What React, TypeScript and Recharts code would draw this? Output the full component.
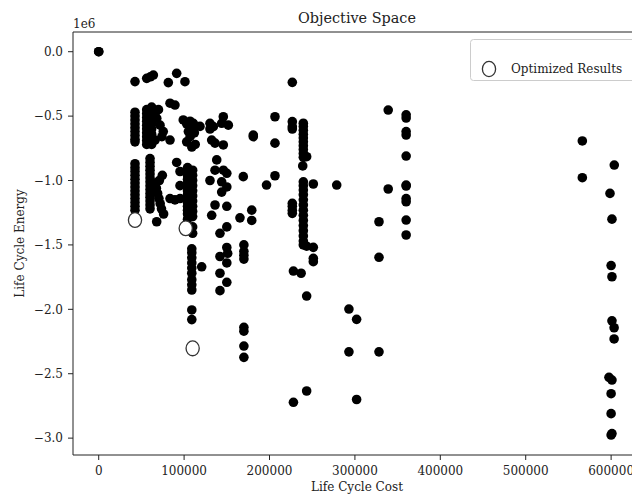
import React from 'react';
import { ScatterChart, Scatter, XAxis, YAxis, ReferenceLine } from 'recharts';

const FONT = '"DejaVu Serif", serif';
const INK = '#222';

const X_TICKS = [0, 100000, 200000, 300000, 400000, 500000, 600000];
const Y_TICKS = [-3e6, -2.5e6, -2e6, -1.5e6, -1e6, -0.5e6, 0];
const X_DOMAIN = [-30100, 635000];
const Y_DOMAIN = [-3.131e6, 0.153e6];

// [life cycle cost, life cycle energy (x1e6)]
const ORIGIN = [[0, 0], [0, 0]];

const COL_42K = [
  [42500, -0.232], [42500, -0.47], [42500, -0.5], [42500, -0.53], [42500, -0.56], [42500, -0.59],
  [42500, -0.62], [42500, -0.65], [42500, -0.68], [42500, -0.7], [42500, -0.87], [42500, -0.9],
  [42500, -0.93], [42500, -0.96], [42500, -0.99], [42500, -1.02], [42500, -1.05], [42500, -1.08],
  [42500, -1.11], [42500, -1.14], [42500, -1.17], [42500, -1.2], [42500, -1.23],
];

const COL_60K = [
  [56200, -0.207], [60500, -0.195], [64000, -0.181],
  [56200, -0.45], [56200, -0.48], [56200, -0.51], [56200, -0.54], [56200, -0.57], [56200, -0.6],
  [56200, -0.63], [56200, -0.66], [56200, -0.69], [56200, -0.72],
  [62000, -0.43], [62000, -0.46], [62000, -0.5], [62000, -0.53], [62000, -0.56], [62000, -0.6],
  [62000, -0.64], [62000, -0.68], [62000, -0.72],
  [60100, -0.83], [60100, -0.86], [60100, -0.89], [60100, -0.92], [60100, -0.95], [60100, -0.98],
  [60100, -1.01], [60100, -1.04], [60100, -1.07], [60100, -1.1], [60100, -1.13], [60100, -1.16],
  [60100, -1.19], [60100, -1.22],
  [68000, -0.517], [71800, -0.57], [75600, -0.62], [66000, -0.686], [74000, -0.66], [70000, -0.45],
  [66000, -0.48], [66000, -1.02], [67500, -1.06], [69000, -1.1], [70500, -1.14], [72000, -1.18],
  [73500, -1.22], [76000, -1.26], [67900, -1.32], [71000, -1.0], [74500, -0.96],
];

const COL_85K = [
  [81500, -0.24], [91300, -0.168], [101000, -0.233], [83500, -0.4], [89300, -0.414], [83500, -0.686],
  [91300, -0.86], [83500, -1.14], [89300, -1.15], [95200, -1.14], [95200, -0.93], [95200, -1.04],
];

const COL_105K = [
  [99000, -0.53], [103000, -0.56], [107000, -0.54], [110800, -0.58], [105000, -0.62], [107000, -0.66],
  [103000, -0.7], [109000, -0.74], [110800, -0.556], [112000, -0.63], [113000, -0.72], [118600, -0.58],
  [104000, -0.9], [104000, -0.93], [104000, -0.96], [104000, -0.99], [104000, -1.02], [104000, -1.05],
  [104000, -1.08], [104000, -1.11], [104000, -1.14], [104000, -1.17], [104000, -1.2], [104000, -1.23],
  [104000, -1.26], [104000, -1.3],
  [110000, -0.92], [110000, -0.96], [110000, -1.0], [110000, -1.04], [110000, -1.08], [110000, -1.12],
  [110000, -1.16], [110000, -1.2], [110000, -1.24], [110000, -1.28], [110000, -1.36], [110000, -1.41],
];

const COL_110K_LOW = [
  [109000, -1.53], [109000, -1.56], [109000, -1.6], [109000, -1.64], [109000, -1.68], [109000, -1.72],
  [109000, -1.77], [109000, -1.81], [109000, -1.85], [109000, -2.005], [109000, -2.08], [120600, -1.67],
];

const COL_140K = [
  [130300, -0.556], [130300, -0.6], [134200, -0.582], [132300, -0.686], [136200, -0.71], [145900, -0.505],
  [144000, -0.556], [151800, -0.57], [145900, -0.724], [138200, -0.84], [136200, -0.92], [146000, -0.92],
  [150000, -0.944], [130300, -1.0], [144000, -1.01], [144000, -1.09], [150000, -1.05], [136200, -1.19],
  [150000, -1.2], [132300, -1.27], [150000, -1.36], [142000, -1.41], [150000, -1.52], [151000, -1.565],
  [142000, -1.59], [150000, -1.64], [142000, -1.72], [150000, -1.79], [142000, -1.855],
];

const COL_170K = [
  [181000, -0.647], [181000, -0.66], [169300, -0.97], [165400, -1.29], [179200, -1.23], [179200, -1.31],
  [170000, -1.5], [170000, -1.55], [170000, -1.58], [170000, -1.61], [170000, -2.14], [170000, -2.17],
  [170000, -2.285], [170000, -2.373],
];

const COL_210K = [[206400, -0.505], [206400, -0.71], [206400, -0.963], [196500, -1.035]];

const COL_240K = [
  [226700, -0.238], [226700, -0.543], [226700, -0.582], [226700, -0.6], [226700, -1.177], [226700, -1.2],
  [226700, -1.23], [226700, -1.255],
  [239600, -0.555], [239600, -0.58], [239600, -0.61], [239600, -0.64], [239600, -0.67], [239600, -0.7],
  [239600, -0.73], [239600, -0.76], [239600, -0.79], [239600, -0.82], [243500, -0.815], [238900, -0.887],
  [239600, -1.01], [239600, -1.04], [239600, -1.074], [239600, -1.11], [239600, -1.15], [239600, -1.19],
  [239600, -1.23], [239600, -1.27], [239600, -1.31], [239600, -1.35], [239600, -1.39], [239600, -1.43],
  [239600, -1.47], [239600, -1.5], [243500, -1.51], [251300, -1.027], [251300, -1.519], [251300, -1.604],
  [251300, -1.63], [228000, -1.703], [237000, -1.72], [243500, -1.897], [228000, -2.722], [243500, -2.634],
];

const COL_300K = [
  [278700, -1.035], [293000, -1.998], [302000, -2.078], [293000, -2.33], [328200, -2.33], [302000, -2.7],
  [328200, -1.596], [328200, -1.32], [339000, -0.453], [339000, -1.066],
];

const COL_360K = [
  [360000, -0.49], [360000, -0.515], [360000, -0.62], [360000, -0.647], [360000, -0.81], [360000, -1.035],
  [360000, -1.043], [360000, -1.14], [360000, -1.165], [360000, -1.307], [360000, -1.423],
];

const COL_600K = [
  [566300, -0.693], [566300, -0.978], [603700, -0.88], [598700, -1.1], [601000, -1.3], [600000, -1.66],
  [601000, -1.747], [601000, -2.089], [603500, -2.143], [603500, -2.23], [597500, -2.528], [601000, -2.549],
  [600000, -2.655], [600000, -2.81], [600000, -2.976], [601000, -2.965],
];

const OPTIMIZED = [[42500, -1.307], [101900, -1.371], [110000, -2.303]];

const toPoints = (rows: number[][]) => rows.map(([x, y]) => ({ x, y: y * 1e6 }));

const allResults = toPoints([
  ...ORIGIN, ...COL_42K, ...COL_60K, ...COL_85K, ...COL_105K, ...COL_110K_LOW, ...COL_140K,
  ...COL_170K, ...COL_210K, ...COL_240K, ...COL_300K, ...COL_360K, ...COL_600K,
]);
const optimized = toPoints(OPTIMIZED);

const fmtY = (v: number) => {
  if (v === 0) return '0.0';
  return (v / 1e6).toFixed(1).replace('-', '\u2212');
};

const Dot = (props: any) => <circle cx={props.cx} cy={props.cy} r={4.8} fill="#000" />;
const Hollow = (props: any) => (
  <ellipse cx={props.cx} cy={props.cy} rx={6.6} ry={7.4} fill="#fff" stroke="#333" strokeWidth={1.3} />
);

const W = 720;
const H = 494;

export default function App() {
  const tick = { fill: INK, fontSize: 12, fontFamily: FONT };
  return (
    <div style={{ position: 'absolute', left: 0, top: 0, width: 632, height: 494, overflow: 'hidden', background: '#fff' }}>
      <div style={{ position: 'relative', width: W, height: H }}>
        <ScatterChart width={W} height={H} margin={{ top: 32, right: 79, bottom: 0, left: 0 }}>
          <XAxis
            type="number"
            dataKey="x"
            domain={X_DOMAIN}
            ticks={X_TICKS}
            interval={0}
            allowDataOverflow
            height={39}
            tick={tick}
            tickSize={5}
            tickMargin={6}
            tickLine={{ stroke: INK }}
            axisLine={{ stroke: INK }}
          />
          <YAxis
            type="number"
            dataKey="y"
            domain={Y_DOMAIN}
            ticks={Y_TICKS}
            interval={0}
            allowDataOverflow
            width={73}
            tick={tick}
            tickSize={5}
            tickMargin={5}
            tickFormatter={fmtY}
            tickLine={{ stroke: INK }}
            axisLine={{ stroke: INK }}
          />
          <ReferenceLine y={Y_DOMAIN[1]} stroke={INK} />
          <ReferenceLine x={X_DOMAIN[1]} stroke={INK} />
          <Scatter data={allResults} shape={Dot} isAnimationActive={false} />
          <Scatter data={optimized} shape={Hollow} isAnimationActive={false} />
        </ScatterChart>
        <svg
          width={W}
          height={H}
          style={{ position: 'absolute', left: 0, top: 0, pointerEvents: 'none' }}
          fontFamily={FONT}
        >
          <text x={357} y={23} textAnchor="middle" fontSize={14.4} fill={INK}>Objective Space</text>
          <text x={73} y={28} fontSize={12} fill={INK}>1e6</text>
          <text x={357} y={491} textAnchor="middle" fontSize={12} fill={INK}>Life Cycle Cost</text>
          <text x={24} y={243.5} textAnchor="middle" fontSize={12} fill={INK} transform="rotate(-90, 24, 243.5)">
            Life Cycle Energy
          </text>
          <rect x={470.5} y={39.5} width={190} height={41} rx={3} fill="#fff" fillOpacity={0.8} stroke="#ccc" />
          <ellipse cx={489} cy={69} rx={6.6} ry={7.6} fill="#fff" stroke="#333" strokeWidth={1.3} />
          <text x={511} y={72.5} fontSize={12} fill={INK}>Optimized Results</text>
        </svg>
      </div>
    </div>
  );
}
